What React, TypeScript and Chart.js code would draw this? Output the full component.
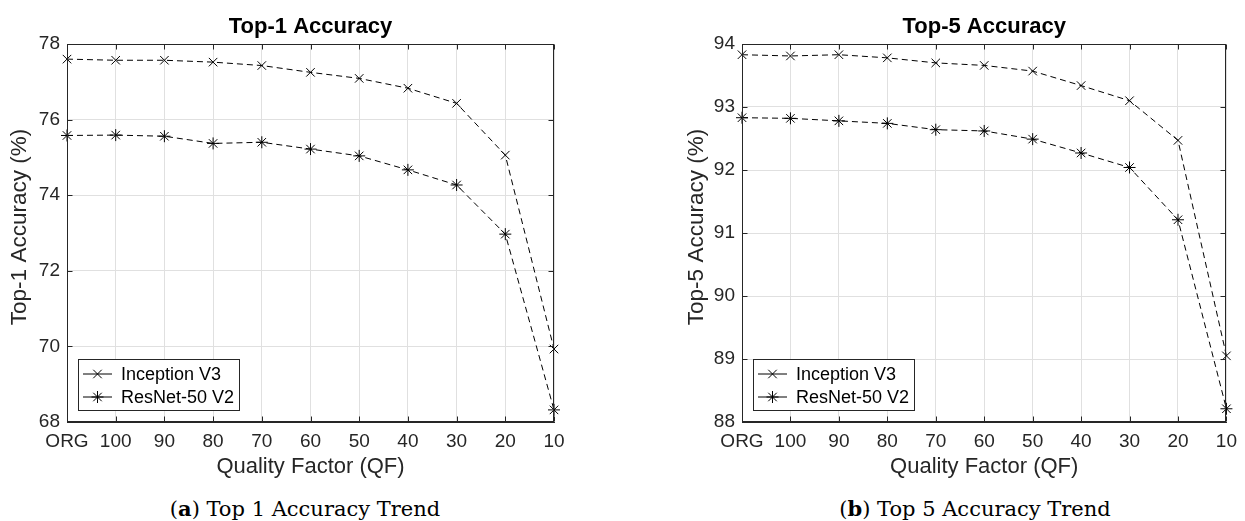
import React, { useEffect, useRef } from "react";
import { Chart, registerables } from "chart.js";
Chart.register(...registerables);

const qfLabels = ["ORG", "100", "90", "80", "70", "60", "50", "40", "30", "20", "10"];
const seriesNames = ["Inception V3", "ResNet-50 V2"];
const top1Inception = [77.6, 77.57, 77.57, 77.52, 77.43, 77.25, 77.09, 76.83, 76.43, 75.06, 69.93];
const top1ResNet = [75.58, 75.59, 75.56, 75.37, 75.4, 75.22, 75.04, 74.67, 74.27, 72.97, 68.32];
const top5Inception = [93.83, 93.81, 93.83, 93.78, 93.7, 93.66, 93.57, 93.34, 93.1, 92.47, 89.05];
const top5ResNet = [92.83, 92.82, 92.78, 92.74, 92.64, 92.62, 92.49, 92.27, 92.04, 91.21, 88.21];
const top1Ticks = { min: 68, max: 78, step: 2 };
const top5Ticks = { min: 88, max: 94, step: 1 };

const FONT = '"Liberation Sans", Arial, Helvetica, sans-serif';
const INK = "#262626";

function drawMarker(ctx: CanvasRenderingContext2D, style: string, x: number, y: number, r: number) {
  ctx.beginPath();
  const d = r * Math.SQRT1_2;
  ctx.moveTo(x - d, y - d);
  ctx.lineTo(x + d, y + d);
  ctx.moveTo(x - d, y + d);
  ctx.lineTo(x + d, y - d);
  if (style === "star") {
    ctx.moveTo(x, y - r);
    ctx.lineTo(x, y + r);
    ctx.moveTo(x - r, y);
    ctx.lineTo(x + r, y);
  }
  ctx.stroke();
}

const decorPlugin = {
  id: "decor",
  afterDraw(chart: any, _args: any, opts: any) {
    const { ctx, chartArea: a, scales } = chart;
    ctx.save();
    ctx.strokeStyle = INK;
    ctx.lineWidth = 1;
    const L = Math.round(a.left) + 0.5;
    const R = Math.round(a.right) - 0.5;
    const T = Math.round(a.top) + 0.5;
    const B = Math.round(a.bottom) - 0.5;
    // inner tick marks
    ctx.beginPath();
    const xs = scales.x;
    for (let i = 0; i < xs.ticks.length; i++) {
      const px = Math.round(xs.getPixelForTick(i)) + 0.5;
      ctx.moveTo(px, B);
      ctx.lineTo(px, B - 5);
      ctx.moveTo(px, T);
      ctx.lineTo(px, T + 5);
    }
    const ys = scales.y;
    for (let i = 0; i < ys.ticks.length; i++) {
      const py = Math.round(ys.getPixelForTick(i)) + 0.5;
      ctx.moveTo(L, py);
      ctx.lineTo(L + 5, py);
      ctx.moveTo(R, py);
      ctx.lineTo(R - 5, py);
    }
    ctx.stroke();
    // box
    ctx.strokeRect(L, T, R - L, B - T);
    // title
    ctx.fillStyle = "#000";
    ctx.font = `bold 22px ${FONT}`;
    ctx.textAlign = "center";
    ctx.textBaseline = "alphabetic";
    ctx.fillText(opts.title, (a.left + a.right) / 2, a.top - 11);
    // y axis title
    ctx.save();
    ctx.fillStyle = INK;
    ctx.font = `22.5px ${FONT}`;
    ctx.translate(a.left - opts.yTitleOffset, (a.top + a.bottom) / 2 - 6);
    ctx.rotate(-Math.PI / 2);
    ctx.textAlign = "center";
    ctx.textBaseline = "middle";
    ctx.fillText(opts.yTitle, 0, 0);
    ctx.restore();
    // legend
    const bx = Math.round(a.left + 11) + 0.5;
    const by = Math.round(a.bottom - 63) + 0.5;
    ctx.fillStyle = "#fff";
    ctx.fillRect(bx, by, 161, 51);
    ctx.strokeStyle = INK;
    ctx.strokeRect(bx, by, 161, 51);
    const ds = chart.data.datasets;
    const rows = [a.bottom - 48, a.bottom - 25];
    ctx.font = `18px ${FONT}`;
    ctx.textAlign = "left";
    ctx.textBaseline = "middle";
    ds.forEach((d: any, i: number) => {
      const y = rows[i];
      ctx.strokeStyle = "#000";
      ctx.lineWidth = 1;
      ctx.beginPath();
      ctx.moveTo(a.left + 16, y);
      ctx.lineTo(a.left + 45, y);
      ctx.stroke();
      drawMarker(ctx, d.pointStyle, a.left + 30.5, y, d.pointRadius);
      ctx.fillStyle = "#000";
      ctx.fillText(d.label, a.left + 54, y + 1);
    });
    ctx.restore();
  },
};

type PanelProps = {
  left: number;
  width: number;
  padLeft: number;
  padRight: number;
  yTitleOffset: number;
  title: string;
  yTitle: string;
  a: number[];
  b: number[];
  ticks: { min: number; max: number; step: number };
};

function Panel(p: PanelProps) {
  const ref = useRef<HTMLCanvasElement>(null);
  useEffect(() => {
    if (!ref.current) return;
    const chart = new Chart(ref.current, {
      type: "line",
      data: {
        labels: qfLabels,
        datasets: [
          {
            label: seriesNames[0],
            data: p.a,
            borderColor: "#000",
            backgroundColor: "#000",
            borderWidth: 1,
            borderDash: [6, 4],
            pointStyle: "crossRot",
            pointRadius: 6,
            pointBorderWidth: 1,
            pointBorderColor: "#000",
            tension: 0,
            fill: false,
          },
          {
            label: seriesNames[1],
            data: p.b,
            borderColor: "#000",
            backgroundColor: "#000",
            borderWidth: 1,
            borderDash: [6, 4],
            pointStyle: "star",
            pointRadius: 6,
            pointBorderWidth: 1,
            pointBorderColor: "#000",
            tension: 0,
            fill: false,
          },
        ],
      },
      options: {
        responsive: false,
        animation: false,
        events: [],
        layout: { padding: { left: p.padLeft, right: p.padRight, top: 44, bottom: 0 } },
        plugins: {
          legend: { display: false },
          title: { display: false },
          tooltip: { enabled: false },
          decor: { title: p.title, yTitle: p.yTitle, yTitleOffset: p.yTitleOffset },
        } as any,
        scales: {
          x: {
            type: "category",
            offset: false,
            grid: { color: "#e0e0e0", drawTicks: false, lineWidth: 1 },
            border: { display: true, color: INK },
            ticks: {
              color: INK,
              font: { family: FONT, size: 19 },
              padding: 8,
              maxRotation: 0,
              autoSkip: false,
            },
            title: {
              display: true,
              text: "Quality Factor (QF)",
              color: INK,
              font: { family: FONT, size: 22 },
              padding: { top: 0, bottom: 0 },
            },
            afterFit(s: any) {
              s.height = 58;
            },
          },
          y: {
            min: p.ticks.min,
            max: p.ticks.max,
            grid: { color: "#e0e0e0", drawTicks: false, lineWidth: 1 },
            border: { display: true, color: INK },
            ticks: {
              stepSize: p.ticks.step,
              color: INK,
              font: { family: FONT, size: 19 },
              padding: 7,
            },
            title: { display: false },
            afterFit(s: any) {
              s.width = 67;
            },
          },
        },
      },
      plugins: [decorPlugin],
    } as any);
    return () => chart.destroy();
  }, []);
  return (
    <canvas
      ref={ref}
      width={p.width}
      height={480}
      style={{ position: "absolute", left: p.left, top: 0, width: p.width, height: 480 }}
    />
  );
}

const captionStyle: React.CSSProperties = {
  position: "absolute",
  top: 498,
  width: 400,
  textAlign: "center",
  fontFamily: '"DejaVu Serif", "Liberation Serif", serif',
  fontSize: 21,
  lineHeight: "21px",
  color: "#000",
  whiteSpace: "nowrap",
};

export default function App() {
  return (
    <div style={{ position: "absolute", left: 0, top: 0, width: 1245, height: 521, background: "#fff", overflow: "hidden" }}>
      <Panel
        left={0}
        width={622}
        padLeft={0}
        padRight={68}
        yTitleOffset={47}
        title="Top-1 Accuracy"
        yTitle="Top-1 Accuracy (%)"
        a={top1Inception}
        b={top1ResNet}
        ticks={top1Ticks}
      />
      <Panel
        left={622}
        width={623}
        padLeft={53}
        padRight={16}
        yTitleOffset={45}
        title="Top-5 Accuracy"
        yTitle="Top-5 Accuracy (%)"
        a={top5Inception}
        b={top5ResNet}
        ticks={top5Ticks}
      />
      <div style={{ ...captionStyle, left: 305 - 200 }}>
        (<b>a</b>) Top 1 Accuracy Trend
      </div>
      <div style={{ ...captionStyle, left: 975 - 200 }}>
        (<b>b</b>) Top 5 Accuracy Trend
      </div>
    </div>
  );
}
